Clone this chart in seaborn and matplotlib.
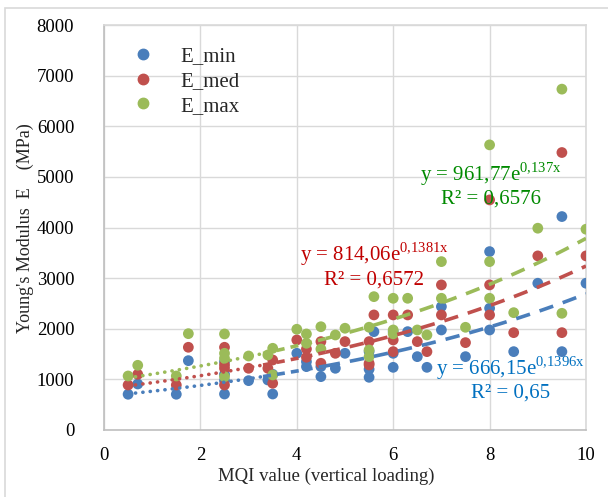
import numpy as np
import pandas as pd
import matplotlib
matplotlib.use("Agg")
import matplotlib.pyplot as plt
from matplotlib.patches import Rectangle
import seaborn as sns

# MQI value and Young's modulus (MPa)
mqi = [0.5, 0.7, 1.5, 1.75, 2.5, 2.5, 2.5, 2.5, 3.0, 3.5, 3.4, 3.5,
       4.0, 4.2, 4.2, 4.5, 4.5, 4.8, 5.0, 5.5, 5.5, 5.5, 5.6,
       6.0, 6.0, 6.0, 6.3, 6.5, 6.7, 7.0, 7.0, 7.5,
       8.0, 8.0, 8.0, 8.5, 9.0, 9.5, 9.5, 10.0]
e_min = [706, 909, 706, 1370, 711, 975, 1100, 1350, 975, 711, 988, 1100,
         1515, 1252, 1350, 1054, 1252, 1219, 1515, 1041, 1200, 1550, 1943,
         1943, 1515, 1238, 1943, 1449, 1238, 1976, 2437, 1449,
         1976, 2405, 3524, 1548, 2899, 1548, 4216, 2899]
e_med = [889, 1100, 889, 1634, 889, 1219, 1285, 1634, 1219, 923, 1219, 1383,
         1779, 1437, 1600, 1318, 1746, 1515, 1746, 1285, 1318, 1746, 2273,
         2273, 1779, 1548, 2273, 1746, 1548, 2273, 2866, 1726,
         2273, 2866, 4545, 1923, 3439, 1923, 5481, 3439]
e_max = [1067, 1278, 1067, 1903, 1053, 1417, 1515, 1897, 1462, 1087, 1482, 1614,
         1990, 1713, 1897, 1600, 2040, 1877, 2010, 1449, 1581, 2030, 2634,
         2602, 1976, 1900, 2602, 1976, 1877, 2602, 3326, 2029,
         2602, 3326, 5632, 2318, 3986, 2305, 6733, 3966]

series = ["E_min", "E_med", "E_max"]
# exponential trendlines shown on the chart: y = a * exp(b x)
trend_a = [666.15, 814.06, 961.77]
trend_b = [0.1396, 0.1381, 0.137]
trend_r2 = ["0,65", "0,6572", "0,6576"]

colors = ["#4A7EBB", "#C0504D", "#9BBB59"]
text_colors = ["#0070C0", "#C00000", "#008A00"]

df = pd.DataFrame({"MQI": mqi, "E_min": e_min, "E_med": e_med, "E_max": e_max})
long = df.melt(id_vars="MQI", var_name="series", value_name="E")

sns.set_theme(style="white")
plt.rcParams["font.family"] = ["Liberation Serif", "DejaVu Serif"]
plt.rcParams["mathtext.fontset"] = "custom"
plt.rcParams["mathtext.rm"] = "Liberation Serif"

fig = plt.figure(figsize=(6.08, 4.97), dpi=100)
ax = fig.add_axes([104 / 608, 67 / 497, 482 / 608, 405 / 497])

sns.scatterplot(data=long, x="MQI", y="E", hue="series", hue_order=series,
                palette=colors, s=60, edgecolor="none", linewidth=0,
                ax=ax, zorder=3, legend=False)

# trendlines: dotted at the left, dashed further right
breaks = [0.5, 3.3, 4.6, 10.0]
styles = [(0, (0.05, 2.0)), (0, (2.2, 1.7)), (0, (4.0, 2.8))]
caps = ["round", "butt", "butt"]
for a, b, c in zip(trend_a, trend_b, colors):
    for k in range(3):
        xs = np.linspace(breaks[k], breaks[k + 1], 60)
        ax.plot(xs, a * np.exp(b * xs), color=c, lw=2.6, linestyle=styles[k],
                dash_capstyle=caps[k], zorder=4)

ax.set_xlim(0, 10)
ax.set_ylim(0, 8000)
ax.set_xticks(range(0, 11, 2))
ax.set_yticks(range(0, 8001, 1000))
ax.grid(True, color="#D9D9D9", lw=1)
ax.set_axisbelow(True)
for side in ["top", "right"]:
    ax.spines[side].set_color("#D9D9D9")
for side in ["left", "bottom"]:
    ax.spines[side].set_color("#BFBFBF")
for sp in ax.spines.values():
    sp.set_linewidth(1.2)
ax.tick_params(axis="both", length=0, labelsize=13.5, colors="black")
ax.tick_params(axis="y", pad=21.5)
ax.tick_params(axis="x", pad=12)
ax.set_xlabel("")
ax.set_ylabel("")

fig.text(326 / 608, 1 - 476 / 497, "MQI value (vertical loading)",
         ha="center", va="center", fontsize=13.5)
fig.text(25 / 608, 1 - 228 / 497, "Young's Modulus  E    (MPa)",
         ha="center", va="center", rotation=90, fontsize=13)

# legend
handles = [plt.Line2D([], [], marker="o", ls="none", color=c, markersize=7.5)
           for c in colors]
leg = ax.legend(handles, series, loc="upper left", bbox_to_anchor=(0.02, 0.993),
                frameon=False, fontsize=15, handletextpad=1.3, labelspacing=0.25,
                handlelength=1.0)

# trendline labels (centre positions in data coordinates)
label_pos = [(8.43, 1230, 730), (5.61, 3480, 2960), (8.03, 5050, 4560)]
for a, b, r2, tc, (lx, y1, y2) in zip(trend_a, trend_b, trend_r2, text_colors, label_pos):
    a_txt = f"{a:.2f}".replace(".", ",")
    b_txt = f"{b:g}".replace(".", "{,}")
    ax.text(lx, y1, f"y = {a_txt}e$^{{\\mathregular{{{b_txt}x}}}}$", color=tc,
            fontsize=15, ha="center", va="center", zorder=5)
    ax.text(lx, y2, f"R² = {r2}", color=tc, fontsize=15, ha="center",
            va="center", zorder=5)

# outer chart frame
fig.patches.append(Rectangle((5 / 608, -0.1), 1.1, 1 - 8 / 497 + 0.1,
                             transform=fig.transFigure, fill=False,
                             edgecolor="#D9D9D9", lw=1.2))

fig.savefig("out.png", dpi=100)
